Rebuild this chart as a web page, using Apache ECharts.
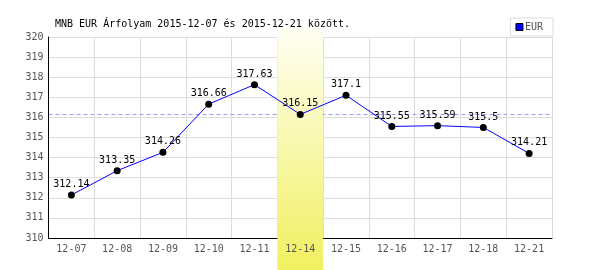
<!DOCTYPE html>
<html><head><meta charset="utf-8">
<script src="https://cdn.jsdelivr.net/npm/echarts@6/dist/echarts.min.js"></script>
<style>html,body{margin:0;padding:0;background:#fff}#c{width:600px;height:270px}</style>
</head><body><div id="c"></div>
<script>
const categories = ['12-07','12-08','12-09','12-10','12-11','12-14','12-15','12-16','12-17','12-18','12-21'];
const eurValues = [312.14,313.35,314.26,316.66,317.63,316.15,317.1,315.55,315.59,315.5,314.21];
const highlightCategory = '12-14';
const referenceValue = 316.15;
const yTicks = {min: 310, max: 320, interval: 1};
const titleText = 'MNB EUR Árfolyam 2015-12-07 és 2015-12-21 között.';
const seriesName = 'EUR';

const mono = 'DejaVu Sans Mono';
const chart = echarts.init(document.getElementById('c'), null, {renderer: 'canvas'});
chart.setOption({
  animation: false,
  title: {text: titleText, left: 50, top: 14, textStyle: {fontFamily: mono, fontSize: 10, fontWeight: 'normal', color: '#000'}},
  legend: {
    data: [{name: seriesName, icon: 'rect', itemStyle: {color: '#0000ff', borderColor: '#000', borderWidth: 1}}],
    right: 47, top: 18, orient: 'vertical',
    borderColor: '#ddd', borderWidth: 1, padding: [4, 10, 4, 5],
    itemWidth: 7, itemHeight: 7, itemGap: 2,
    textStyle: {fontFamily: mono, fontSize: 10, color: '#555', padding: [0, 0, 0, -3]}
  },
  grid: [
    {left: 48.5, right: 48, top: 37, bottom: 32},
    {left: 48.5, right: 48, top: 28, bottom: 0}
  ],
  xAxis: [
    {type: 'category', data: categories, gridIndex: 0, boundaryGap: true, position: 'bottom', z: 0,
     axisLine: {show: true, lineStyle: {color: '#000', width: 1}},
     axisTick: {show: false},
     axisLabel: {show: false},
     splitLine: {show: true, interval: 0, lineStyle: {color: '#ddd', width: 1}}},
    {type: 'category', data: categories, gridIndex: 1, boundaryGap: true, show: false},
    {type: 'category', data: categories, gridIndex: 0, boundaryGap: true, position: 'bottom', offset: 0, z: 10,
     axisLine: {show: false}, axisTick: {show: false}, splitLine: {show: false},
     axisLabel: {fontFamily: mono, fontSize: 10, color: '#555', margin: 6, interval: 0}}
  ],
  yAxis: [
    {type: 'value', gridIndex: 0, min: yTicks.min, max: yTicks.max, interval: yTicks.interval, z: 0,
     axisLine: {show: true, lineStyle: {color: '#000', width: 1}},
     axisTick: {show: false},
     axisLabel: {fontFamily: mono, fontSize: 10, color: '#555', margin: 5},
     splitLine: {show: true, lineStyle: {color: '#ddd', width: 1}}},
    {type: 'value', gridIndex: 1, min: 0, max: 1, show: false}
  ],
  series: [
    {
      type: 'line', name: '_ref', xAxisIndex: 0, yAxisIndex: 0, data: [], z: 0, silent: true,
      markLine: {silent: true, symbol: 'none', z: 0, label: {show: false},
        lineStyle: {color: '#9999ff', type: [4, 3], width: 1},
        data: [{yAxis: referenceValue}]}
    },
    {
      type: 'bar', name: '_band', xAxisIndex: 1, yAxisIndex: 1, z: 1, silent: true,
      barWidth: '100%',
      data: categories.map(c => c === highlightCategory ? 1 : null),
      itemStyle: {color: new echarts.graphic.LinearGradient(0, 0, 0, 1, [
        {offset: 0, color: '#fffff4'}, {offset: 1, color: '#f0f060'}])}
    },
    {
      type: 'line', name: seriesName, xAxisIndex: 0, yAxisIndex: 0, z: 3,
      data: eurValues,
      symbol: 'circle', symbolSize: 7,
      itemStyle: {color: '#000'},
      lineStyle: {color: '#0000ff', width: 1},
      label: {show: true, position: 'top', distance: 2, fontFamily: mono, fontSize: 10, color: '#000'}
    }
  ]
});
</script></body></html>
